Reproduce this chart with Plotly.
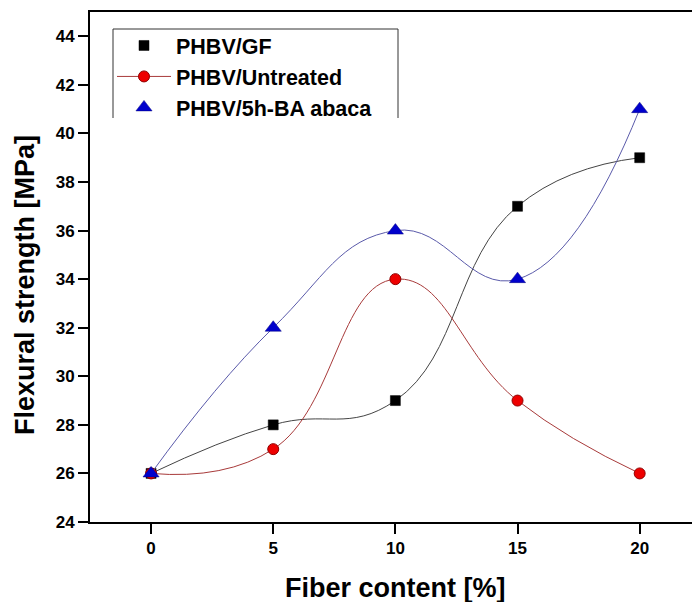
import plotly.graph_objects as go

fiber = [0, 5, 10, 15, 20]
gf = [26, 28, 29, 37, 39]
untreated = [26, 27, 34, 29, 26]
abaca = [26, 32, 36, 34, 41]
names = ["PHBV/GF", "PHBV/Untreated", "PHBV/5h-BA abaca"]
x_ticks = [0, 5, 10, 15, 20]
y_ticks = list(range(24, 45, 2))

W, H = 692, 602
ML, MR, MT, MB = 90, 0, 12, 80
PW, PH = W - ML - MR, H - MT - MB

def px(x):
    return (x - ML) / PW

def py(y):
    return (H - MB - y) / PH

FONT = "Liberation Sans, Arial, sans-serif"

styles = [
    dict(line=dict(color="#444444", width=1),
         marker=dict(symbol="square", size=10, color="#000000",
                     line=dict(color="#000000", width=0.5))),
    dict(line=dict(color="#a83a3a", width=1),
         marker=dict(symbol="circle", size=11, color="#ee0000",
                     line=dict(color="#900000", width=1))),
    dict(line=dict(color="#5a5aaa", width=1),
         marker=dict(symbol="triangle-up", size=14, color="#0000cc",
                     line=dict(color="#000080", width=0.5))),
]

fig = go.Figure()
for name, ys, st in zip(names, [gf, untreated, abaca], styles):
    fig.add_trace(go.Scatter(
        x=fiber, y=ys, mode="lines+markers", name=name, showlegend=False,
        line=dict(shape="spline", smoothing=1.3, **st["line"]),
        marker=st["marker"],
    ))

# legend proxies
for i, (name, st) in enumerate(zip(names, styles)):
    mode = "lines+markers" if i == 1 else "markers"
    fig.add_trace(go.Scatter(
        x=[None], y=[None], mode=mode, name=name, legendgroup=f"g{i}",
        line=dict(color="#a83a3a", width=1), marker=st["marker"],
    ))

fig.update_layout(
    width=W, height=H,
    margin=dict(l=ML, r=MR, t=MT, b=MB),
    paper_bgcolor="white", plot_bgcolor="white",
    font=dict(family=FONT, color="#000000"),
    showlegend=True,
    legend=dict(
        x=px(112), y=py(25), xanchor="left", yanchor="top",
        bgcolor="rgba(255,255,255,0)", borderwidth=0,
        font=dict(size=21.5, family=FONT, weight="bold", color="#000000"),
        tracegroupgap=0, itemwidth=54,
    ),
    xaxis=dict(
        range=[-2.5, -2.5 + PW / 24.43], tickvals=x_ticks,
        ticktext=[str(v) for v in x_ticks],
        showgrid=False, zeroline=False, showline=True, linecolor="#000000",
        linewidth=2, mirror=True, ticks="outside", ticklen=10, tickwidth=2,
        tickcolor="#000000",
        tickfont=dict(size=17, family=FONT, weight="bold", color="#000000"),
    ),
    yaxis=dict(
        range=[24, 45], tickvals=y_ticks, ticktext=[str(v) for v in y_ticks],
        showgrid=False, zeroline=False, showline=True, linecolor="#000000",
        linewidth=2, mirror=False, ticks="outside", ticklen=10, tickwidth=2,
        tickcolor="#000000",
        tickfont=dict(size=17, family=FONT, weight="bold", color="#000000"),
    ),
    annotations=[
        dict(text="Fiber content [%]", x=px(395), y=py(588), xref="paper",
             yref="paper", showarrow=False, xanchor="center", yanchor="middle",
             font=dict(size=27, family=FONT, weight="bold", color="#000000")),
        dict(text="Flexural strength [MPa]", x=px(25), y=py(285), xref="paper",
             yref="paper", showarrow=False, xanchor="center", yanchor="middle",
             textangle=-90,
             font=dict(size=27, family=FONT, weight="bold", color="#000000")),
    ],
    shapes=[
        dict(type="line", xref="paper", yref="paper", x0=px(113), x1=px(398),
             y0=py(29), y1=py(29), line=dict(color="#333333", width=1)),
        dict(type="line", xref="paper", yref="paper", x0=px(113), x1=px(113),
             y0=py(29), y1=py(118), line=dict(color="#333333", width=1)),
        dict(type="line", xref="paper", yref="paper", x0=px(398), x1=px(398),
             y0=py(29), y1=py(118), line=dict(color="#333333", width=1)),
    ],
)

fig.write_html(
    "out.html",
    config={"displayModeBar": False},
    post_script="document.body.style.margin='0';document.body.style.padding='0';",
)
